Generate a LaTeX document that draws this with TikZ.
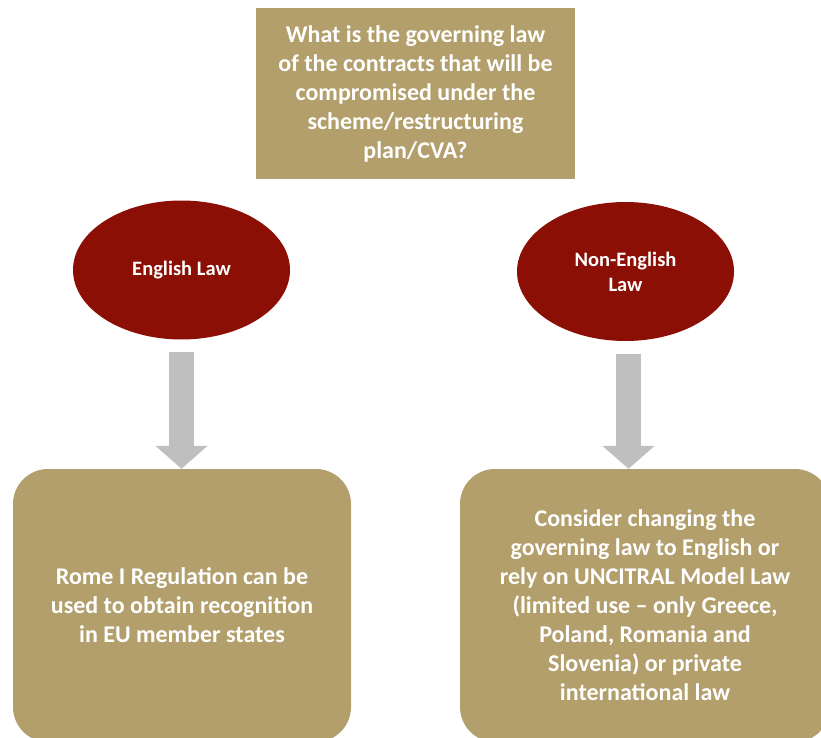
\documentclass[tikz,border=0pt]{standalone}
\usepackage{fontspec}
\setmainfont{Carlito}
\usetikzlibrary{shapes.geometric,arrows.meta}
\definecolor{tan}{HTML}{B39F6C}
\definecolor{darkred}{HTML}{8B0F04}
\definecolor{arrowgray}{HTML}{BFBFBF}
\tikzset{
  qbox/.style={fill=tan, draw=none, minimum width=319pt, minimum height=171pt, inner sep=0pt,
    text=white, font=\fontsize{24}{29}\selectfont\bfseries, align=center},
  lawell/.style={ellipse, fill=darkred, draw=none, minimum width=217pt, minimum height=139pt, inner sep=0pt,
    text=white, font=\fontsize{20.5}{25}\selectfont\bfseries, align=center},
  ansbox/.style={fill=tan, draw=none, rounded corners=35pt, minimum height=273pt, inner sep=0pt,
    text=white, font=\fontsize{24}{29}\selectfont\bfseries, align=center},
  blockarrow/.style={draw=arrowgray, line width=25pt, shorten <=12.5pt,
    -{Triangle[width=51pt,length=23pt,fill=arrowgray]}}
}
\begin{document}
\begin{tikzpicture}[x=1pt,y=-1pt]
\useasboundingbox (0,0) rectangle (821,738);
\begin{scope}
\clip (0,0) rectangle (821,738);
\node[qbox] (q) at (415.5,93.5) {What is the governing law\\of the contracts that will be\\compromised under the\\scheme/restructuring\\plan/CVA?};
\node[lawell] (eng) at (181.5,270) {English Law};
\node[lawell] (neng) at (625.5,271.5) {Non-English\\Law};
\node[ansbox, minimum width=338pt] (rome) at (182,605.5) {Rome I Regulation can be\\used to obtain recognition\\in EU member states};
\node[ansbox, minimum width=370pt] (cons) at (645,605.5) {Consider changing the\\governing law to English or\\rely on UNCITRAL Model Law\\(limited use -- only Greece,\\Poland, Romania and\\Slovenia) or private\\international law};
\draw[blockarrow] (eng.south) -- (eng.south |- rome.north);
\draw[blockarrow] ([xshift=3pt]neng.south) -- ([xshift=3pt]neng.south |- cons.north);
\end{scope}
\end{tikzpicture}
\end{document}
